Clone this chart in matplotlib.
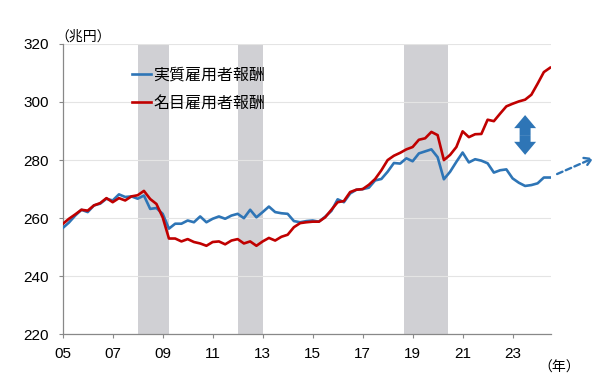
import numpy as np
import matplotlib
matplotlib.use('Agg')
import matplotlib.pyplot as plt
from matplotlib.patches import FancyArrowPatch

plt.rcParams['font.family'] = ['Liberation Sans', 'Noto Sans CJK JP']

# quarterly, 2005Q1 - 2024Q3 (trillion yen)
nominal = [258.0, 259.8, 261.3, 262.9, 262.6, 264.4, 265.2, 266.9, 265.5, 266.9,
           266.1, 267.5, 267.9, 269.4, 266.6, 264.9, 260.3, 253.0, 253.0, 252.0,
           252.8, 251.8, 251.3, 250.5, 251.8, 252.0, 251.0, 252.3, 252.8, 251.3,
           252.0, 250.5, 252.0, 253.2, 252.3, 253.6, 254.3, 256.9, 258.3, 258.6,
           258.8, 258.8, 260.3, 262.9, 265.5, 265.9, 269.0, 269.8, 270.0, 271.5,
           273.5, 276.5, 280.0, 281.5, 282.5, 283.7, 284.5, 287.0, 287.5, 289.7,
           288.6, 280.0, 281.8, 284.5, 289.9, 287.9, 288.9, 289.0, 293.9, 293.4,
           296.0, 298.5, 299.4, 300.2, 300.8, 302.5, 306.3, 310.3, 311.8]
real = [256.6, 258.5, 260.9, 262.9, 262.1, 264.4, 265.0, 266.7, 266.1, 268.2,
        267.3, 267.5, 266.7, 267.8, 263.2, 263.5, 261.5, 256.4, 258.1, 258.1,
        259.2, 258.6, 260.6, 258.6, 259.8, 260.6, 259.8, 260.9, 261.5, 260.0,
        262.9, 260.3, 262.1, 264.0, 262.1, 261.7, 261.5, 259.0, 258.6, 259.0,
        259.2, 258.8, 260.5, 262.5, 266.5, 265.5, 268.5, 269.8, 270.0, 270.5,
        273.0, 273.5, 276.0, 279.0, 278.8, 280.6, 279.6, 282.3, 283.0, 283.7,
        281.0, 273.4, 276.0, 279.4, 282.6, 279.2, 280.3, 279.8, 278.9, 275.7,
        276.5, 276.8, 273.7, 272.2, 271.1, 271.4, 272.0, 274.0, 274.0]
start_year = 2005
recessions = [(2008.0, 2009.25), (2012.0, 2013.0), (2018.67, 2020.42)]
xticks = list(range(2005, 2024, 2))
xticklabels = ['%02d' % (y % 100) for y in xticks]
yticks = [220, 240, 260, 280, 300, 320]

x = start_year + np.arange(len(nominal)) / 4

blue = '#2e75b6'
red = '#c00000'

fig = plt.figure(figsize=(6, 3.92), dpi=100)
ax = fig.add_axes([0.1045, 0.147, 0.814, 0.741])

for a, b in recessions:
    ax.axvspan(a, b, color='#d0d0d4', lw=0, zorder=1)

ax.plot(x, real, color=blue, lw=1.9, label='実質雇用者報酬', zorder=3)
ax.plot(x, nominal, color=red, lw=1.9, label='名目雇用者報酬', zorder=4)

ax.set_xlim(2005, 2024.54)
ax.set_ylim(220, 320)
ax.set_xticks(xticks)
ax.set_xticklabels(xticklabels)
ax.set_yticks(yticks)
ax.grid(axis='y', color='#e4e4e4', lw=0.8, zorder=0)
ax.tick_params(axis='both', labelsize=11, color='#888888', length=3.2, width=0.8)
ax.tick_params(axis='y', pad=6.5)
ax.tick_params(axis='x', pad=6)
for s in ['top', 'right']:
    ax.spines[s].set_visible(False)
for s in ['left', 'bottom']:
    ax.spines[s].set_color('#888888')
    ax.spines[s].set_linewidth(0.9)

leg = ax.legend(loc='upper left', bbox_to_anchor=(0.142, 0.922), frameon=False,
                handlelength=1.2, handletextpad=0.15, labelspacing=0.72,
                borderpad=0, borderaxespad=0,
                prop={'family': 'Noto Sans CJK JP', 'size': 11.5})

# gap marker (double arrow)
mid = 288.6
for end in (295.5, 281.8):
    ax.add_patch(FancyArrowPatch((2023.5, mid), (2023.5, end),
                                 arrowstyle='simple,head_length=9.4,head_width=15.8,tail_width=7.9',
                                 mutation_scale=1, shrinkA=0, shrinkB=0,
                                 color=blue, lw=0, zorder=5))

# dashed outlook arrow
ax.annotate('', xy=(2026.24, 280.7), xytext=(2024.78, 275.2),
            xycoords='data', annotation_clip=False,
            arrowprops=dict(arrowstyle='->,head_length=0.5,head_width=0.3',
                            color=blue, lw=1.7, linestyle=(0, (2.5, 1.5)),
                            shrinkA=0, shrinkB=0))

fig.text(0.092, 0.906, '（兆円）', family='Noto Sans CJK JP', fontsize=10,
         ha='left', va='center')
fig.text(0.932, 0.061, '（年）', family='Noto Sans CJK JP', fontsize=10,
         ha='center', va='center')

fig.savefig('out.png', dpi=100)
